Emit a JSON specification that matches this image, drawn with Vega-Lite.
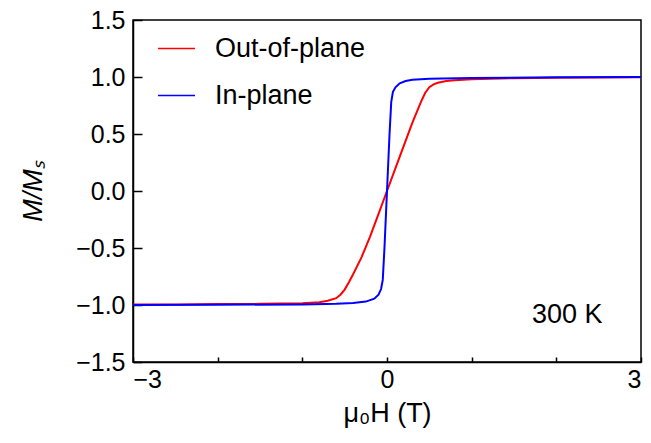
{
  "$schema": "https://vega.github.io/schema/vega-lite/v6.json",
  "width": 508,
  "height": 342,
  "autosize": "none",
  "padding": {"left": 133, "top": 20, "right": 10, "bottom": 81},
  "background": "white",
  "config": {
    "font": "Liberation Sans",
    "view": {"stroke": "black", "strokeWidth": 1.5},
    "axis": {"grid": false, "domainColor": "black", "domainWidth": 1.5, "tickColor": "black", "tickWidth": 1.5, "labelColor": "black", "titleColor": "black", "labelFontSize": 25, "titleFontSize": 27, "titleFontWeight": "normal", "labelFont": "Liberation Sans", "titleFont": "Liberation Sans"}
  },
  "datasets": {
    "curves": [
      {"H": -3.0, "M": -0.995, "series": "Out-of-plane"},
      {"H": -2.5, "M": -0.995, "series": "Out-of-plane"},
      {"H": -2.0, "M": -0.992, "series": "Out-of-plane"},
      {"H": -1.5, "M": -0.99, "series": "Out-of-plane"},
      {"H": -1.0, "M": -0.985, "series": "Out-of-plane"},
      {"H": -0.8, "M": -0.975, "series": "Out-of-plane"},
      {"H": -0.7, "M": -0.962, "series": "Out-of-plane"},
      {"H": -0.6, "M": -0.94, "series": "Out-of-plane"},
      {"H": -0.55, "M": -0.91, "series": "Out-of-plane"},
      {"H": -0.5, "M": -0.865, "series": "Out-of-plane"},
      {"H": -0.45, "M": -0.8, "series": "Out-of-plane"},
      {"H": -0.4, "M": -0.73, "series": "Out-of-plane"},
      {"H": -0.3, "M": -0.58, "series": "Out-of-plane"},
      {"H": -0.2, "M": -0.4, "series": "Out-of-plane"},
      {"H": -0.1, "M": -0.2, "series": "Out-of-plane"},
      {"H": 0.0, "M": 0.0, "series": "Out-of-plane"},
      {"H": 0.1, "M": 0.2, "series": "Out-of-plane"},
      {"H": 0.2, "M": 0.4, "series": "Out-of-plane"},
      {"H": 0.3, "M": 0.6, "series": "Out-of-plane"},
      {"H": 0.4, "M": 0.78, "series": "Out-of-plane"},
      {"H": 0.45, "M": 0.86, "series": "Out-of-plane"},
      {"H": 0.5, "M": 0.91, "series": "Out-of-plane"},
      {"H": 0.55, "M": 0.935, "series": "Out-of-plane"},
      {"H": 0.6, "M": 0.95, "series": "Out-of-plane"},
      {"H": 0.7, "M": 0.965, "series": "Out-of-plane"},
      {"H": 0.8, "M": 0.972, "series": "Out-of-plane"},
      {"H": 1.0, "M": 0.98, "series": "Out-of-plane"},
      {"H": 1.5, "M": 0.99, "series": "Out-of-plane"},
      {"H": 2.0, "M": 0.993, "series": "Out-of-plane"},
      {"H": 2.5, "M": 0.995, "series": "Out-of-plane"},
      {"H": 3.0, "M": 0.998, "series": "Out-of-plane"},
      {"H": -3.0, "M": -1.0, "series": "In-plane"},
      {"H": -2.0, "M": -0.998, "series": "In-plane"},
      {"H": -1.0, "M": -0.995, "series": "In-plane"},
      {"H": -0.6, "M": -0.99, "series": "In-plane"},
      {"H": -0.4, "M": -0.982, "series": "In-plane"},
      {"H": -0.25, "M": -0.97, "series": "In-plane"},
      {"H": -0.15, "M": -0.945, "series": "In-plane"},
      {"H": -0.1, "M": -0.91, "series": "In-plane"},
      {"H": -0.07, "M": -0.86, "series": "In-plane"},
      {"H": -0.05, "M": -0.78, "series": "In-plane"},
      {"H": -0.03, "M": -0.5, "series": "In-plane"},
      {"H": 0.0, "M": 0.0, "series": "In-plane"},
      {"H": 0.03, "M": 0.5, "series": "In-plane"},
      {"H": 0.05, "M": 0.78, "series": "In-plane"},
      {"H": 0.07, "M": 0.87, "series": "In-plane"},
      {"H": 0.1, "M": 0.91, "series": "In-plane"},
      {"H": 0.15, "M": 0.945, "series": "In-plane"},
      {"H": 0.22, "M": 0.965, "series": "In-plane"},
      {"H": 0.3, "M": 0.975, "series": "In-plane"},
      {"H": 0.5, "M": 0.985, "series": "In-plane"},
      {"H": 1.0, "M": 0.992, "series": "In-plane"},
      {"H": 2.0, "M": 0.997, "series": "In-plane"},
      {"H": 3.0, "M": 1.0, "series": "In-plane"}
    ],
    "note": [{"H": 2.13, "M": -1.09, "label": "300 K"}]
  },
  "layer": [
    {
      "mark": {"type": "rule", "color": "black", "strokeWidth": 1.5},
      "encoding": {"x": {"datum": 0, "type": "quantitative"}}
    },
    {
      "mark": {"type": "rule", "color": "black", "strokeWidth": 1.5},
      "encoding": {"y": {"datum": 0, "type": "quantitative"}}
    },
    {
      "data": {"name": "curves"},
      "mark": {"type": "line", "strokeWidth": 2},
      "encoding": {
        "x": {
          "field": "H", "type": "quantitative",
          "scale": {"domain": [-3, 3], "nice": false, "zero": false},
          "axis": {
            "title": "μ₀H (T)",
            "values": [-3, -2, -1, 0, 1, 2, 3],
            "labelExpr": "datum.value % 3 === 0 ? format(datum.value, 'd') : ''",
            "tickSize": -5,
            "labelPadding": 10,
            "titlePadding": 8,
            "domain": true
          }
        },
        "y": {
          "field": "M", "type": "quantitative",
          "scale": {"domain": [-1.5, 1.5], "nice": false, "zero": false},
          "axis": {
            "title": "M/Mₛ",
            "titleFontStyle": "italic",
            "values": [-1.5, -1.25, -1.0, -0.75, -0.5, -0.25, 0, 0.25, 0.5, 0.75, 1.0, 1.25, 1.5],
            "labelExpr": "abs(datum.value * 2 - round(datum.value * 2)) < 0.001 ? format(datum.value, '.1f') : ''",
            "tickSize": {"condition": {"test": "abs(datum.value * 2 - round(datum.value * 2)) > 0.001", "value": -5}, "value": -9},
            "labelPadding": 17,
            "titlePadding": 28
          }
        },
        "color": {
          "field": "series", "type": "nominal",
          "scale": {"domain": ["Out-of-plane", "In-plane"], "range": ["#ff0000", "#0000ff"]},
          "legend": {
            "title": null, "orient": "none", "legendX": 24, "legendY": 9,
            "symbolType": "stroke", "symbolSize": 1369, "symbolStrokeWidth": 1.5,
            "labelFontSize": 27, "labelOffset": 19, "rowPadding": 14, "padding": 0,
            "labelColor": "black", "labelFont": "Liberation Sans"
          }
        }
      }
    },
    {
      "data": {"name": "note"},
      "mark": {"type": "text", "fontSize": 27, "align": "center", "baseline": "middle", "color": "black", "font": "Liberation Sans"},
      "encoding": {
        "x": {"field": "H", "type": "quantitative"},
        "y": {"field": "M", "type": "quantitative"},
        "text": {"field": "label"}
      }
    }
  ]
}
